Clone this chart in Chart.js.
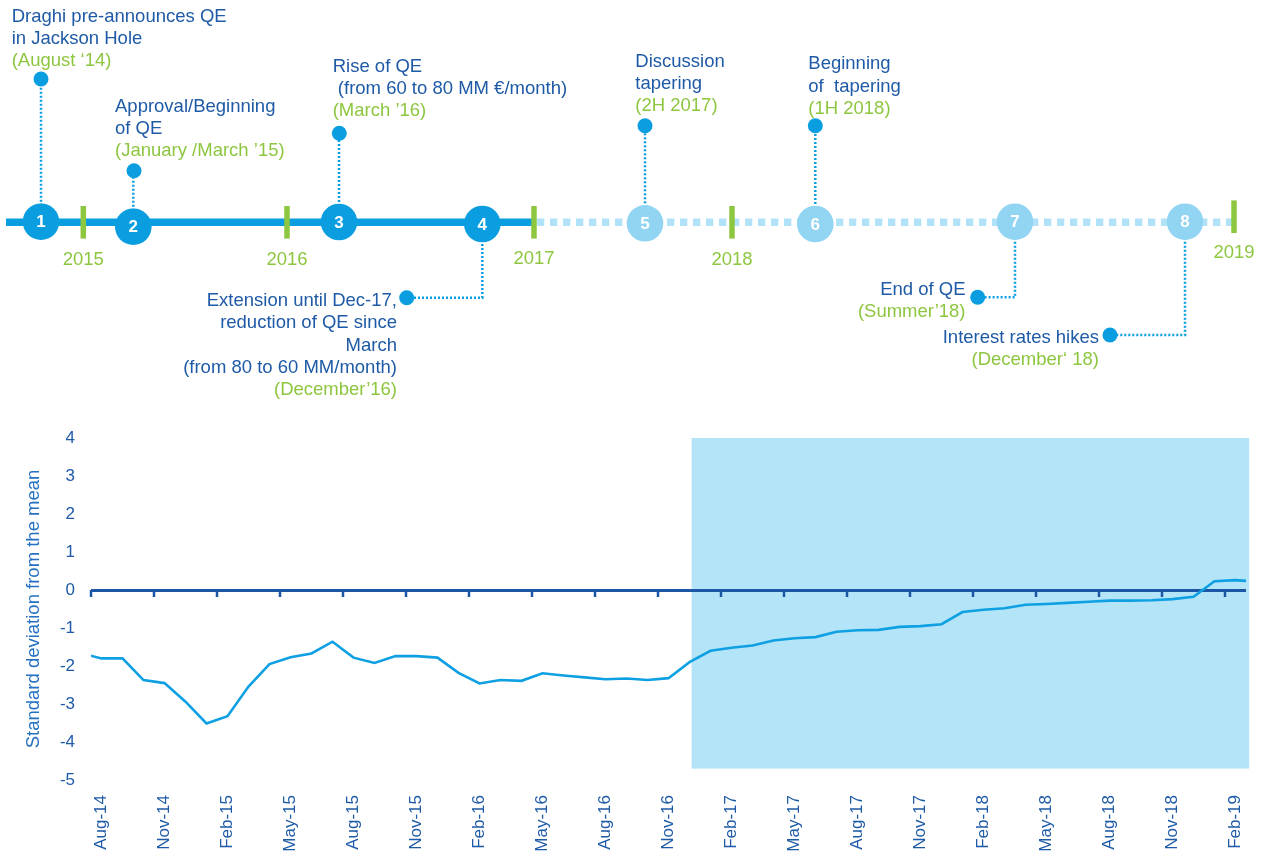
<!DOCTYPE html>
<html>
<head>
<meta charset="utf-8">
<script src="https://cdn.jsdelivr.net/npm/chart.js@4"></script>
<style>
  html, body { margin: 0; padding: 0; background: #fff; }
  #timeline { position: absolute; left: 0; top: 0; }
  #chart { position: absolute; left: 0; top: 410px; }
</style>
</head>
<body>
<canvas id="timeline" width="1264" height="410"></canvas>
<canvas id="chart" width="1264" height="446"></canvas>
<script>
// ---------- colours / fonts ----------
const FAMILY = "'Liberation Sans', Arial, sans-serif";
const TEXT_BLUE = '#1f5aa6';
const GREEN = '#8dc63f';
const DARK_DOT = '#0a9ee0';
const LIGHT_DOT = '#92d5f3';
const DASH_BLUE = '#b2e2f7';
const LINE_BLUE = '#0ea0e3';
const AXIS_BLUE = '#1c57a5';
const SHADE = '#b3e4f7';

Chart.defaults.font.family = FAMILY;
Chart.defaults.animation = false;

// ---------- timeline (schematic positions, 1 unit = 10px) ----------
const yearLabels = ['2015', '2016', '2017', '2018', '2019'];
const yearPos = [8.33, 28.7, 53.4, 73.2, 123.4];
const yearMarkY = [22.23, 22.23, 22.23, 22.23, 21.67];
const yearLabelY = [26.5, 26.5, 26.4, 26.5, 25.83];

const eventNum = ['1', '2', '3', '4', '5', '6', '7', '8'];
const eventPos = [4.1, 13.33, 33.9, 48.23, 64.5, 81.53, 101.5, 118.5];
const eventY = [22.17, 22.67, 22.2, 22.4, 22.33, 22.4, 22.17, 22.17];
const eventPast = [true, true, true, true, false, false, false, false];
const dotX = [4.1, 13.4, 33.93, 40.67, 64.5, 81.53, 97.77, 111.0];
const dotY = [7.9, 17.07, 13.33, 29.77, 12.57, 12.57, 29.73, 33.5];

const labelX = [1.17, 11.5, 33.27, 39.7, 63.53, 80.83, 96.55, 109.9];
const labelY = [2.17, 11.17, 7.17, 30.6, 6.67, 6.93, 29.5, 34.27];
const labelAlign = ['left', 'left', 'left', 'right', 'left', 'left', 'right', 'right'];
const labelLines = [
  ['Draghi pre-announces QE', 'in Jackson Hole'],
  ['Approval/Beginning', 'of QE'],
  ['Rise of QE', ' (from 60 to 80 MM \u20ac/month)'],
  ['Extension until Dec-17,', 'reduction of QE since', 'March', '(from 80 to 60 MM/month)'],
  ['Discussion', 'tapering'],
  ['Beginning', 'of  tapering'],
  ['End of QE'],
  ['Interest rates hikes']
];
const labelDates = [
  '(August \u201814)', '(January /March \u201915)', '(March \u201916)', '(December\u201916)',
  '(2H 2017)', '(1H 2018)', '(Summer\u201918)', '(December\u2018 18)'
];
const LINE_STEP = 2.23;
const solidEnd = 53.4;
const dashEnd = 123.2;

// ---------- line chart data ----------
const months = [
  'Jul-14', 'Aug-14', 'Sep-14', 'Oct-14', 'Nov-14', 'Dec-14',
  'Jan-15', 'Feb-15', 'Mar-15', 'Apr-15', 'May-15', 'Jun-15', 'Jul-15', 'Aug-15', 'Sep-15', 'Oct-15', 'Nov-15', 'Dec-15',
  'Jan-16', 'Feb-16', 'Mar-16', 'Apr-16', 'May-16', 'Jun-16', 'Jul-16', 'Aug-16', 'Sep-16', 'Oct-16', 'Nov-16', 'Dec-16',
  'Jan-17', 'Feb-17', 'Mar-17', 'Apr-17', 'May-17', 'Jun-17', 'Jul-17', 'Aug-17', 'Sep-17', 'Oct-17', 'Nov-17', 'Dec-17',
  'Jan-18', 'Feb-18', 'Mar-18', 'Apr-18', 'May-18', 'Jun-18', 'Jul-18', 'Aug-18', 'Sep-18', 'Oct-18', 'Nov-18', 'Dec-18',
  'Jan-19', 'Feb-19', 'Mar-19'
];
const stdDev = [
  -1.66, -1.80, -1.80, -2.37, -2.45, -2.94,
  -3.51, -3.32, -2.54, -1.95, -1.77, -1.67, -1.36, -1.78, -1.92, -1.74, -1.74, -1.78,
  -2.18, -2.46, -2.37, -2.39, -2.19, -2.25, -2.30, -2.35, -2.33, -2.37, -2.32, -1.90,
  -1.60, -1.52, -1.46, -1.33, -1.27, -1.24, -1.10, -1.06, -1.05, -0.97, -0.95, -0.90,
  -0.58, -0.52, -0.48, -0.39, -0.37, -0.34, -0.31, -0.28, -0.28, -0.27, -0.24, -0.18,
  0.23, 0.26, 0.22
];
// shaded period (in months from Aug-14 start) and its vertical extent
const shadeFrom = 28.6, shadeTo = 55.15;
const shadeTop = 4, shadeBottom = -4.7;

// ================= TIMELINE =================
const connectorSets = eventPos.map((ex, i) => {
  const pts = [{ x: ex, y: eventY[i] }];
  if (Math.abs(dotX[i] - ex) > 0.01) pts.push({ x: ex, y: dotY[i] });
  pts.push({ x: dotX[i], y: dotY[i] });
  return {
    data: pts, borderColor: DARK_DOT, borderWidth: 2.5, borderDash: [2, 2],
    pointRadius: 0, order: 5, clip: false
  };
});

const timelineText = {
  id: 'timelineText',
  afterDraw(chart) {
    const { ctx, scales: { x, y } } = chart;
    ctx.save();
    // year labels
    ctx.font = `18.5px ${FAMILY}`;
    ctx.fillStyle = GREEN;
    ctx.textAlign = 'center';
    ctx.textBaseline = 'alphabetic';
    yearLabels.forEach((lab, i) => {
      ctx.fillText(lab, x.getPixelForValue(yearPos[i]), y.getPixelForValue(yearLabelY[i]));
    });
    // numbers in circles
    ctx.font = `bold 17px ${FAMILY}`;
    ctx.fillStyle = '#fff';
    ctx.textBaseline = 'middle';
    eventNum.forEach((n, i) => {
      ctx.fillText(n, x.getPixelForValue(eventPos[i]), y.getPixelForValue(eventY[i]) + 1);
    });
    // event descriptions
    ctx.font = `18.5px ${FAMILY}`;
    ctx.textBaseline = 'alphabetic';
    labelLines.forEach((lines, i) => {
      ctx.textAlign = labelAlign[i];
      const px = x.getPixelForValue(labelX[i]);
      ctx.fillStyle = TEXT_BLUE;
      lines.forEach((t, j) => {
        ctx.fillText(t, px, y.getPixelForValue(labelY[i] + j * LINE_STEP));
      });
      ctx.fillStyle = GREEN;
      ctx.fillText(labelDates[i], px, y.getPixelForValue(labelY[i] + lines.length * LINE_STEP));
    });
    ctx.restore();
  }
};

new Chart(document.getElementById('timeline'), {
  type: 'line',
  data: {
    datasets: [
      {
        data: eventPos.map((p, i) => ({ x: p, y: eventY[i] })),
        showLine: false, pointRadius: 18.3, pointBorderWidth: 0,
        pointBackgroundColor: eventPast.map(p => p ? DARK_DOT : LIGHT_DOT),
        order: 1, clip: false
      },
      {
        data: dotX.map((p, i) => ({ x: p, y: dotY[i] })),
        showLine: false, pointRadius: 7.5, pointBorderWidth: 0,
        pointBackgroundColor: DARK_DOT, order: 2, clip: false
      },
      {
        data: yearPos.map((p, i) => ({ x: p, y: yearMarkY[i] })),
        showLine: false, pointStyle: 'line', pointRotation: 90, pointRadius: 16.3,
        pointBorderWidth: 5.5, pointBorderColor: GREEN, order: 3, clip: false
      },
      {
        data: [{ x: 0.6, y: 22.22 }, { x: solidEnd, y: 22.22 }],
        borderColor: DARK_DOT, borderWidth: 7.5, pointRadius: 0, order: 8, clip: false
      },
      {
        data: [{ x: solidEnd + 0.3, y: 22.22 }, { x: dashEnd, y: 22.22 }],
        borderColor: DASH_BLUE, borderWidth: 7.5, borderDash: [7.3, 5.7],
        pointRadius: 0, order: 8, clip: false
      },
      ...connectorSets
    ]
  },
  options: {
    responsive: false,
    events: [],
    layout: { padding: 0, autoPadding: false },
    plugins: { legend: { display: false }, tooltip: { enabled: false } },
    scales: {
      x: { type: 'linear', min: 0, max: 126.4, display: false },
      y: { type: 'linear', min: 0, max: 41, reverse: true, display: false }
    }
  },
  plugins: [timelineText]
});

// ================= LINE CHART =================
const shadePlugin = {
  id: 'shade',
  beforeDraw(chart) {
    const { ctx, scales: { x, y } } = chart;
    const x0 = x.getPixelForValue(shadeFrom), x1 = x.getPixelForValue(shadeTo);
    const y0 = y.getPixelForValue(shadeTop), y1 = y.getPixelForValue(shadeBottom);
    ctx.save();
    ctx.fillStyle = SHADE;
    ctx.fillRect(x0, y0, x1 - x0, y1 - y0);
    ctx.restore();
  }
};

const zeroTicks = {
  id: 'zeroTicks',
  beforeDatasetsDraw(chart) {
    const { ctx, scales: { x, y } } = chart;
    const y0 = y.getPixelForValue(0);
    ctx.save();
    ctx.strokeStyle = AXIS_BLUE;
    ctx.lineWidth = 2.5;
    x.ticks.forEach(t => {
      const px = x.getPixelForValue(t.value);
      ctx.beginPath();
      ctx.moveTo(px, y0);
      ctx.lineTo(px, y0 + 7);
      ctx.stroke();
    });
    ctx.restore();
  }
};

new Chart(document.getElementById('chart'), {
  type: 'line',
  data: {
    datasets: [{
      data: stdDev.map((v, i) => ({ x: i - 0.5, y: v })),
      borderColor: LINE_BLUE,
      borderWidth: 2.6,
      pointRadius: 0,
      tension: 0
    }]
  },
  options: {
    responsive: false,
    events: [],
    layout: { padding: { top: 28, right: 18, bottom: 0, left: 0 }, autoPadding: false },
    plugins: { legend: { display: false }, tooltip: { enabled: false } },
    scales: {
      x: {
        type: 'linear', min: 0, max: 55,
        grid: { display: false, drawTicks: false },
        border: { display: false },
        ticks: {
          stepSize: 3, includeBounds: false, autoSkip: false,
          minRotation: 90, maxRotation: 90, labelOffset: 10.5, padding: 15,
          color: TEXT_BLUE, font: { size: 17 },
          callback: v => months[v + 1]
        },
        afterFit: s => { s.height = 76; }
      },
      y: {
        min: -5, max: 4,
        grid: {
          drawTicks: false,
          lineWidth: 3,
          color: c => (c.tick && c.tick.value === 0) ? AXIS_BLUE : 'rgba(0,0,0,0)'
        },
        border: { display: false },
        ticks: { stepSize: 1, padding: 16, color: TEXT_BLUE, font: { size: 17 } },
        title: {
          display: true, text: 'Standard deviation from the mean',
          color: '#2470c2', font: { size: 18.5 }, padding: { top: 23, bottom: 0 }
        },
        afterFit: s => { s.width = 91; }
      }
    }
  },
  plugins: [shadePlugin, zeroTicks]
});
</script>
</body>
</html>
